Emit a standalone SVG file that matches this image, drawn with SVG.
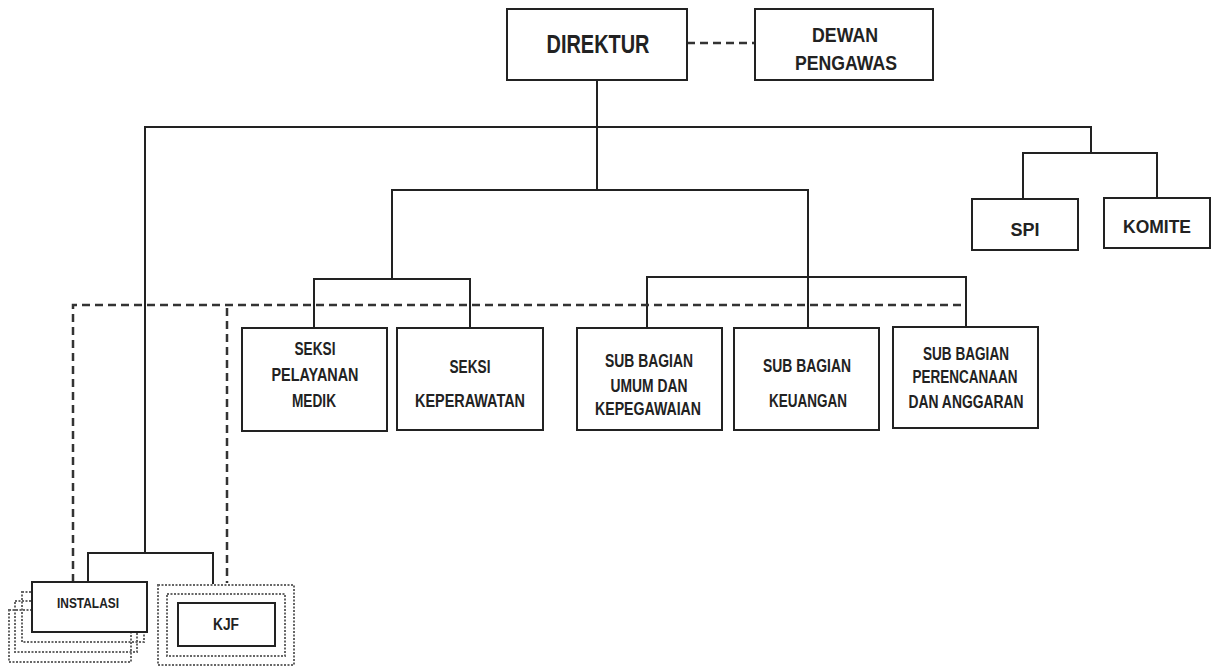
<svg xmlns="http://www.w3.org/2000/svg" width="1218" height="666" viewBox="0 0 1218 666">
<style>
.box{fill:#fff;stroke:#222;stroke-width:2}
.ln{fill:none;stroke:#222;stroke-width:2}
.dash{fill:none;stroke:#333;stroke-width:2.5;stroke-dasharray:8,5}
.dot{fill:none;stroke:#666;stroke-width:2;stroke-dasharray:2,1.5}
text{font-family:"Liberation Sans",Arial,sans-serif;font-weight:bold;fill:#222;text-anchor:middle}
.t{font-size:17.5px}
</style>
<rect width="1218" height="666" fill="#fff"/>
<g id="connectors">
<path class="dash" d="M687,43 H755"/>
<path class="ln" d="M597,80 V190"/>
<path class="ln" d="M145,553 V127 H1091 V153"/>
<path class="ln" d="M1023,199 V153 H1157 V198"/>
<path class="ln" d="M392,279 V190 H808 V328"/>
<path class="ln" d="M314,328 V279 H470 V328"/>
<path class="ln" d="M647,328 V277 H966 V327"/>
<path class="ln" d="M88,582 V553 H213 V584"/>
<path class="dash" d="M73,582 V305 H966"/>
<path class="dash" d="M227,308 V583"/>
</g>
<g id="direktur">
<rect class="box" x="507" y="9" width="180" height="71"/>
<text x="598" y="53" font-size="26" textLength="103" lengthAdjust="spacingAndGlyphs">DIREKTUR</text>
</g>
<g id="dewan-pengawas">
<rect class="box" x="755" y="9" width="178" height="71"/>
<text x="845" y="42" font-size="21" textLength="66" lengthAdjust="spacingAndGlyphs">DEWAN</text>
<text x="846" y="70" font-size="21" textLength="102" lengthAdjust="spacingAndGlyphs">PENGAWAS</text>
</g>
<g id="spi">
<rect class="box" x="972" y="199" width="106" height="51"/>
<text class="t" x="1025" y="236" textLength="29" lengthAdjust="spacingAndGlyphs">SPI</text>
</g>
<g id="komite">
<rect class="box" x="1104" y="198" width="106" height="50"/>
<text class="t" x="1157" y="233" textLength="68" lengthAdjust="spacingAndGlyphs">KOMITE</text>
</g>
<g id="seksi-pelayanan-medik">
<rect class="box" x="242" y="328" width="145" height="103"/>
<text class="t" x="315" y="355" textLength="41" lengthAdjust="spacingAndGlyphs">SEKSI</text>
<text class="t" x="315" y="381" textLength="87" lengthAdjust="spacingAndGlyphs">PELAYANAN</text>
<text class="t" x="314" y="407" textLength="44" lengthAdjust="spacingAndGlyphs">MEDIK</text>
</g>
<g id="seksi-keperawatan">
<rect class="box" x="397" y="328" width="146" height="102"/>
<text class="t" x="470" y="373" textLength="41" lengthAdjust="spacingAndGlyphs">SEKSI</text>
<text class="t" x="470" y="407" textLength="110" lengthAdjust="spacingAndGlyphs">KEPERAWATAN</text>
</g>
<g id="sub-bagian-umum">
<rect class="box" x="577" y="328" width="145" height="102"/>
<text class="t" x="649" y="367" textLength="88" lengthAdjust="spacingAndGlyphs">SUB BAGIAN</text>
<text class="t" x="649" y="392" textLength="77" lengthAdjust="spacingAndGlyphs">UMUM DAN</text>
<text class="t" x="648" y="415" textLength="106" lengthAdjust="spacingAndGlyphs">KEPEGAWAIAN</text>
</g>
<g id="sub-bagian-keuangan">
<rect class="box" x="734" y="328" width="145" height="102"/>
<text class="t" x="807" y="372" textLength="88" lengthAdjust="spacingAndGlyphs">SUB BAGIAN</text>
<text class="t" x="808" y="407" textLength="78" lengthAdjust="spacingAndGlyphs">KEUANGAN</text>
</g>
<g id="sub-bagian-perencanaan">
<rect class="box" x="893" y="327" width="145" height="101"/>
<text class="t" x="966" y="360" textLength="86" lengthAdjust="spacingAndGlyphs">SUB BAGIAN</text>
<text class="t" x="965" y="383" textLength="105" lengthAdjust="spacingAndGlyphs">PERENCANAAN</text>
<text class="t" x="966" y="408" textLength="115" lengthAdjust="spacingAndGlyphs">DAN ANGGARAN</text>
</g>
<g id="instalasi">
<rect class="dot" x="9" y="610" width="122" height="52"/>
<rect class="dot" x="15" y="601" width="122" height="51"/>
<rect class="dot" x="22" y="592" width="122" height="50"/>
<rect class="box" x="32" y="582" width="115" height="50"/>
<text x="88" y="608" font-size="15" textLength="62" lengthAdjust="spacingAndGlyphs" fill="#444">INSTALASI</text>
</g>
<g id="kjf">
<rect class="dot" x="158" y="585" width="136" height="80"/>
<rect class="dot" x="167" y="594" width="118" height="62"/>
<rect class="box" x="178" y="603" width="97" height="43"/>
<text x="226" y="630" font-size="16" textLength="26" lengthAdjust="spacingAndGlyphs">KJF</text>
</g>
</svg>
